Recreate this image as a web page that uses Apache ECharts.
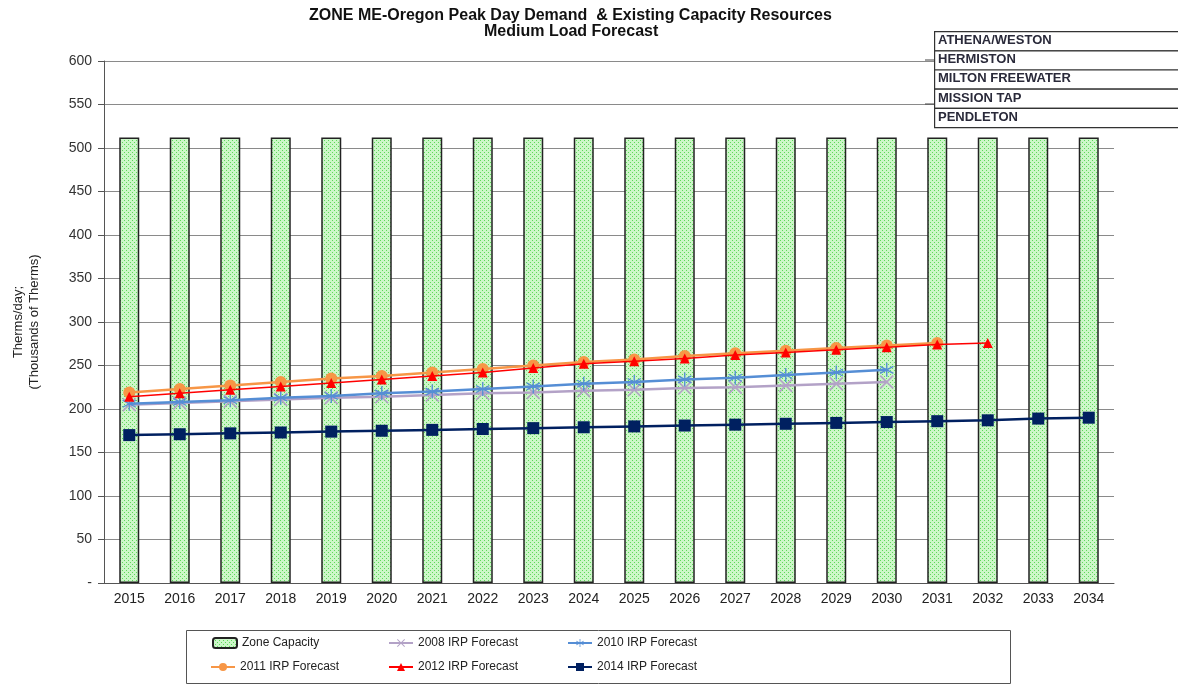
<!DOCTYPE html>
<html lang="en">

<head>
  <meta charset="UTF-8">
  <title>ZONE ME-Oregon Peak Day Demand</title>
</head>

<body style="margin:0">
  <div id="main" style="width: 1178px;height:685px;"></div>
  <script src="https://cdn.jsdelivr.net/npm/echarts@6/dist/echarts.min.js"></script>
  <script>
    const years = ['2015', '2016', '2017', '2018', '2019', '2020', '2021', '2022', '2023', '2024',
      '2025', '2026', '2027', '2028', '2029', '2030', '2031', '2032', '2033', '2034'
    ];
    const zoneCapacity = [512, 512, 512, 512, 512, 512, 512, 512, 512, 512,
      512, 512, 512, 512, 512, 512, 512, 512, 512, 512
    ];
    const irp2008 = [205, 207, 209, 211, 213, 214, 216, 218, 219, 221, 222, 224, 225, 227, 229, 231];
    const irp2010 = [206, 208, 210, 213, 215, 218, 220, 223, 226, 229, 231, 234, 236, 239, 242, 245];
    const irp2011 = [219, 223, 227, 231, 235, 238, 242, 246, 250, 254, 257, 261, 264, 267, 270, 273, 276];
    const irp2012 = [214, 218, 222, 226, 230, 234, 238, 242, 247, 252, 255, 258, 262, 265, 268, 271, 274, 276];
    const irp2014 = [170, 171, 172, 173, 174, 175, 176, 177, 178, 179, 180, 181, 182, 183, 184, 185, 186, 187, 189, 190];
    const yTicks = [0, 50, 100, 150, 200, 250, 300, 350, 400, 450, 500, 550, 600];
    const zones = ['ATHENA/WESTON', 'HERMISTON', 'MILTON FREEWATER', 'MISSION TAP', 'PENDLETON'];

    const FONT = '"Liberation Sans", Arial, sans-serif';

    // dotted green fill like the excel pattern
    const pat = document.createElement('canvas');
    pat.width = 4;
    pat.height = 4;
    const pctx = pat.getContext('2d');
    pctx.fillStyle = '#ccf7c8';
    pctx.fillRect(0, 0, 4, 4);
    pctx.fillStyle = '#5fd85a';
    pctx.fillRect(0, 0, 1, 1);
    pctx.fillRect(2, 2, 1, 1);

    // asterisk-ish marker built from thin arms
    function armsPath(angles) {
      let d = '';
      angles.forEach((a) => {
        const r = a * Math.PI / 180;
        const c = Math.cos(r), s = Math.sin(r);
        const w = 0.09, l = 1;
        const px = -s * w, py = c * w;
        const pts = [
          [-c * l + px, -s * l + py], [c * l + px, s * l + py],
          [c * l - px, s * l - py], [-c * l - px, -s * l - py]
        ];
        d += 'M' + pts.map(p => p[0].toFixed(3) + ',' + p[1].toFixed(3)).join('L') + 'Z';
      });
      return 'path://' + d;
    }
    const starSym = armsPath([90, 30, 150]);
    const crossSym = armsPath([45, 135]);

    const myChart = echarts.init(document.getElementById('main'));

    const legendText = { fontFamily: FONT, fontSize: 12, color: '#222' };
    function legendAt(name, left, top) {
      return {
        data: [name], left: left, top: top, itemWidth: 24, itemHeight: 10,
        textStyle: legendText, padding: 0, selectedMode: false
      };
    }

    const zoneGraphics = [];
    zones.forEach((z, i) => {
      zoneGraphics.push({
        type: 'rect', left: 934, top: 31 + i * 19.2, z: 100,
        shape: { width: 260, height: 19.2 },
        style: { fill: '#fff', stroke: '#333', lineWidth: 1.2 }
      });
      zoneGraphics.push({
        type: 'text', left: 938, top: 34 + i * 19.2, z: 101,
        style: { text: z, font: 'bold 13px ' + FONT, fill: '#2a2a3a' }
      });
    });

    const option = {
      animation: false,
      backgroundColor: '#fff',
      grid: { left: 104, right: 64, top: 61, bottom: 102 },
      legend: [
        legendAt('Zone Capacity', 212, 637),
        legendAt('2008 IRP Forecast', 388, 637),
        legendAt('2010 IRP Forecast', 567, 637),
        legendAt('2011 IRP Forecast', 210, 661),
        legendAt('2012 IRP Forecast', 388, 661),
        legendAt('2014 IRP Forecast', 567, 661)
      ],
      graphic: [{
        type: 'text', left: 309, top: 8,
        style: {
          text: 'ZONE ME-Oregon Peak Day Demand  & Existing Capacity Resources',
          font: 'bold 16px ' + FONT, fill: '#111'
        }
      }, {
        type: 'text', left: 484, top: 24,
        style: {
          text: 'Medium Load Forecast',
          font: 'bold 16px ' + FONT, fill: '#111'
        }
      }, {
        type: 'rect', left: 184, top: 628,
        shape: { width: 824, height: 53 },
        style: { fill: 'none', stroke: '#555', lineWidth: 1 }
      }, {
        type: 'line', shape: { x1: 925, y1: 60, x2: 934, y2: 60 }, z: 100,
        style: { stroke: '#444', lineWidth: 1 }
      }, {
        type: 'line', shape: { x1: 925, y1: 104, x2: 934, y2: 104 }, z: 100,
        style: { stroke: '#444', lineWidth: 1 }
      }].concat(zoneGraphics),
      xAxis: {
        type: 'category',
        data: years,
        axisLine: { lineStyle: { color: '#555', width: 1 } },
        axisTick: { length: 5, lineStyle: { color: '#555' } },
        axisLabel: { fontFamily: FONT, fontSize: 14, color: '#222', margin: 9 },
        splitLine: { show: false }
      },
      yAxis: {
        type: 'value',
        min: 0,
        max: 600,
        interval: 50,
        name: 'Therms/day;\n(Thousands of Therms)',
        nameLocation: 'middle',
        nameRotate: 90,
        nameGap: 62,
        nameTextStyle: { fontFamily: FONT, fontSize: 13, color: '#222', lineHeight: 16 },
        axisLine: { show: true, lineStyle: { color: '#555', width: 1 } },
        axisTick: { show: true, length: 6, lineStyle: { color: '#555' } },
        axisLabel: {
          fontFamily: FONT, fontSize: 14, color: '#333', margin: 12,
          formatter: (v) => (yTicks.indexOf(v) === 0 ? '-' : String(v))
        },
        splitLine: { lineStyle: { color: '#8a8a8a', width: 1 } }
      },
      series: [{
        name: 'Zone Capacity',
        type: 'bar',
        barWidth: 20,
        data: zoneCapacity,
        itemStyle: {
          color: { image: pat, repeat: 'repeat' },
          borderColor: '#222',
          borderWidth: 1.5
        }
      }, {
        name: '2008 IRP Forecast',
        type: 'line',
        data: irp2008,
        color: '#b3a2c7',
        symbol: crossSym,
        symbolSize: 14,
        lineStyle: { width: 2.5 },
        itemStyle: { color: '#b3a2c7' },
        z: 3
      }, {
        name: '2010 IRP Forecast',
        type: 'line',
        data: irp2010,
        color: '#558ed5',
        symbol: starSym,
        symbolSize: 14,
        lineStyle: { width: 2.5 },
        itemStyle: { color: '#558ed5' },
        z: 4
      }, {
        name: '2011 IRP Forecast',
        type: 'line',
        data: irp2011,
        color: '#f79646',
        symbol: 'circle',
        symbolSize: 12,
        lineStyle: { width: 2.5 },
        itemStyle: { color: '#f79646' },
        z: 5
      }, {
        name: '2012 IRP Forecast',
        type: 'line',
        data: irp2012,
        color: '#ff0000',
        symbol: 'triangle',
        symbolSize: 10,
        lineStyle: { width: 1.5 },
        itemStyle: { color: '#ff0000' },
        z: 6
      }, {
        name: '2014 IRP Forecast',
        type: 'line',
        data: irp2014,
        color: '#002060',
        symbol: 'rect',
        symbolSize: 12,
        lineStyle: { width: 2.5 },
        itemStyle: { color: '#002060' },
        z: 7
      }]
    };

    myChart.setOption(option);
  </script>
</body>

</html>
